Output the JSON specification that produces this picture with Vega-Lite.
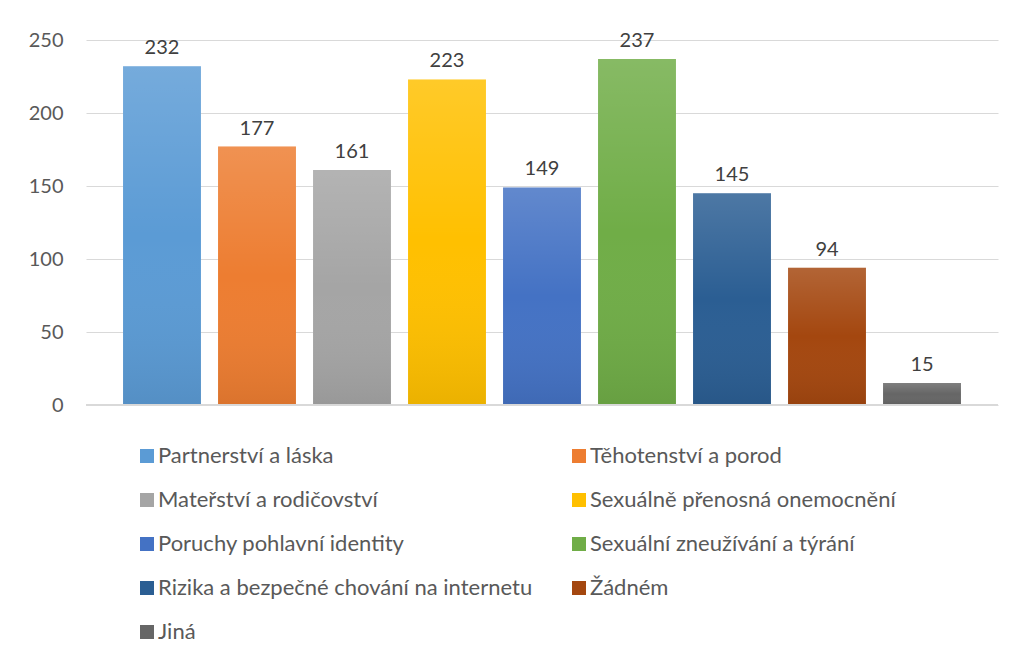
{
  "$schema": "https://vega.github.io/schema/vega-lite/v6.json",
  "width": 912,
  "height": 365,
  "autosize": {"type": "none"},
  "padding": {"left": 86, "top": 40, "right": 18, "bottom": 261},
  "background": "white",
  "config": {
    "font": "Lato",
    "view": {"stroke": null},
    "axis": {"labelFont": "Lato", "labelColor": "#595959", "labelFontSize": 20},
    "legend": {"labelFont": "Lato"}
  },
  "data": {"values": [
    {"tema": "Partnerství a láska", "pocet": 232},
    {"tema": "Těhotenství a porod", "pocet": 177},
    {"tema": "Mateřství a rodičovství", "pocet": 161},
    {"tema": "Sexuálně přenosná onemocnění", "pocet": 223},
    {"tema": "Poruchy pohlavní identity", "pocet": 149},
    {"tema": "Sexuální zneužívání a týrání", "pocet": 237},
    {"tema": "Rizika a bezpečné chování na internetu", "pocet": 145},
    {"tema": "Žádném", "pocet": 94},
    {"tema": "Jiná", "pocet": 15}
  ]},
  "encoding": {
    "x": {"field": "tema", "type": "nominal", "sort": null,
      "scale": {"paddingInner": 0.18, "paddingOuter": 0.39},
      "axis": null},
    "y": {"field": "pocet", "type": "quantitative",
      "scale": {"domain": [0, 250], "nice": false},
      "axis": {"values": [0, 50, 100, 150, 200, 250], "title": null, "domain": false, "ticks": false,
        "labelPadding": 23, "gridColor": "#d9d9d9", "gridWidth": 1}}
  },
  "layer": [
    {
      "mark": {"type": "bar"},
      "encoding": {
        "color": {"field": "tema", "type": "nominal", "sort": null,
          "scale": {"range": ["#5b9bd5", "#ed7d31", "#a5a5a5", "#ffc000", "#4472c4", "#70ad47", "#2b5e93", "#a4470f", "#666666"]},
          "legend": {
            "title": null, "orient": "none", "direction": "horizontal", "legendX": 50, "legendY": 405,
            "columns": 2, "columnPadding": 35, "rowPadding": 22,
            "symbolType": "square", "symbolSize": 196, "symbolStrokeWidth": 0, "symbolOpacity": 1,
            "labelFontSize": 22, "labelColor": "#595959", "labelOffset": 0, "labelLimit": 500
          }
        }
      }
    },
    {
      "mark": {"type": "bar", "fill": {"gradient": "linear", "x1": 0, "y1": 0, "x2": 0, "y2": 1,
        "stops": [{"offset": 0, "color": "rgba(255,255,255,0.16)"}, {"offset": 0.5, "color": "rgba(255,255,255,0)"}, {"offset": 1, "color": "rgba(0,0,0,0.08)"}]}},
      "encoding": {}
    },
    {
      "mark": {"type": "rule", "color": "#d9d9d9", "strokeWidth": 1},
      "encoding": {"y": {"datum": 0}, "x": null}
    },
    {
      "mark": {"type": "text", "baseline": "bottom", "dy": -8, "fontSize": 20, "color": "#404040"},
      "encoding": {"text": {"field": "pocet", "type": "quantitative"}}
    }
  ]
}
